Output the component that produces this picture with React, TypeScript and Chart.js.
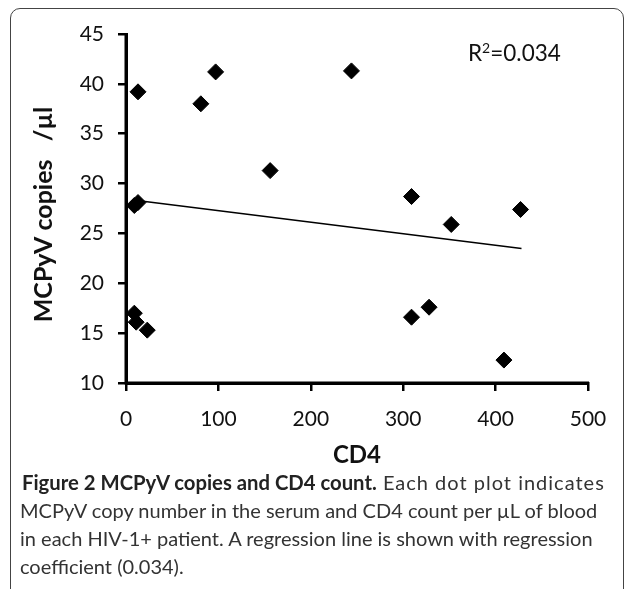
import { useEffect, useRef } from "react";
import { Chart, registerables, type ChartConfiguration, type Plugin } from "chart.js";

Chart.register(...registerables);

// CD4 count per µL (x) and MCPyV copies /µl (y)
const cd4 = [9, 13, 13, 81, 97, 156, 244, 309, 352, 427, 309, 328, 409, 9, 11, 23];
const copies = [27.8, 28.1, 39.2, 38.0, 41.2, 31.3, 41.3, 28.7, 25.9, 27.4, 16.6, 17.6, 12.3, 17.0, 16.1, 15.3];

// regression line end points
const trendX = [12, 428];
const trendY = [28.3, 23.5];

const xTicks = [0, 100, 200, 300, 400, 500];
const yTicks = [10, 15, 20, 25, 30, 35, 40, 45];

const captionBold = "Figure 2 MCPyV copies and CD4 count.";
const captionLines = [
  " Each dot plot indicates",
  "MCPyV copy number in the serum and CD4 count per µL of blood",
  "in each HIV-1+ patient. A regression line is shown with regression",
  "coefficient (0.034).",
];

const FONT = "Lato, 'Open Sans', sans-serif";
const INK = "#111";

// thick black axis lines like the Excel original
const axisLines: Plugin = {
  id: "axisLines",
  afterDatasetsDraw(chart) {
    const { ctx, chartArea } = chart;
    ctx.save();
    ctx.strokeStyle = "#000";
    ctx.lineWidth = 3;
    ctx.beginPath();
    ctx.moveTo(chartArea.left, chartArea.top - 1);
    ctx.lineTo(chartArea.left, chartArea.bottom);
    ctx.lineTo(chartArea.right + 1, chartArea.bottom);
    ctx.stroke();
    ctx.restore();
  },
};

export default function App() {
  const canvasRef = useRef<HTMLCanvasElement>(null);
  const chartRef = useRef<Chart | null>(null);

  useEffect(() => {
    if (!canvasRef.current) return;
    chartRef.current?.destroy();

    const cfg: ChartConfiguration = {
      type: "scatter",
      data: {
        datasets: [
          {
            type: "line",
            label: "trend",
            data: trendX.map((x, i) => ({ x, y: trendY[i] })),
            borderColor: "#000",
            borderWidth: 1.5,
            pointRadius: 0,
            fill: false,
            order: 2,
          },
          {
            type: "scatter",
            label: "patients",
            data: cd4.map((x, i) => ({ x, y: copies[i] })),
            pointStyle: "rectRot",
            pointRadius: 8,
            backgroundColor: "#000",
            borderColor: "#000",
            borderWidth: 1,
            clip: false,
            order: 1,
          },
        ],
      },
      options: {
        responsive: true,
        maintainAspectRatio: false,
        animation: false,
        layout: { padding: { top: 34, right: 39, bottom: 0, left: 0 } },
        plugins: { legend: { display: false }, tooltip: { enabled: false } },
        scales: {
          x: {
            type: "linear",
            min: xTicks[0],
            max: xTicks[xTicks.length - 1],
            ticks: {
              stepSize: xTicks[1] - xTicks[0],
              color: INK,
              font: { family: FONT, size: 21 },
              padding: 16,
            },
            grid: {
              drawOnChartArea: false,
              tickLength: 8,
              color: "#000",
              lineWidth: 2.5,
              tickWidth: 2.5,
            },
            border: { color: "#000", width: 3 },
            title: {
              display: true,
              text: "CD4",
              color: INK,
              font: { family: FONT, size: 24, weight: "bold" },
              padding: { top: 0, bottom: 3 },
            },
            afterFit: (s) => {
              s.height = 90;
            },
          },
          y: {
            type: "linear",
            min: yTicks[0],
            max: yTicks[yTicks.length - 1],
            ticks: {
              stepSize: yTicks[1] - yTicks[0],
              color: INK,
              font: { family: FONT, size: 21 },
              padding: 14,
            },
            grid: {
              drawOnChartArea: false,
              tickLength: 8,
              color: "#000",
              lineWidth: 2.5,
              tickWidth: 2.5,
            },
            border: { color: "#000", width: 3 },
            title: {
              display: true,
              text: "MCPyV copies   /µl  ",
              color: INK,
              font: { family: FONT, size: 25, weight: "bold" },
              padding: { top: 29, bottom: 0 },
            },
            afterFit: (s) => {
              s.width = 126;
            },
          },
        },
      },
      plugins: [axisLines],
    };

    chartRef.current = new Chart(canvasRef.current, cfg);
    return () => {
      chartRef.current?.destroy();
      chartRef.current = null;
    };
  }, []);

  return (
    <div
      style={{
        position: "fixed",
        left: 0,
        top: 0,
        width: 627,
        height: 589,
        overflow: "hidden",
        background: "#fff",
      }}
    >
      <div
        style={{
          position: "absolute",
          left: 10,
          top: 8,
          width: 614,
          height: 610,
          boxSizing: "border-box",
          border: "1.5px solid #444",
          borderRadius: 10,
        }}
      />
      <div style={{ position: "absolute", left: 0, top: 0, width: 627, height: 473 }}>
        <canvas ref={canvasRef} />
      </div>
      <div
        style={{
          position: "absolute",
          left: 468,
          top: 34,
          fontFamily: FONT,
          fontSize: 22.5,
          color: INK,
          lineHeight: "28px",
          whiteSpace: "nowrap",
        }}
      >
        R<sup style={{ fontSize: 14, verticalAlign: "8px" }}>2</sup>=0.034
      </div>
      <div
        style={{
          position: "absolute",
          left: 20,
          top: 468,
          fontFamily: FONT,
          fontSize: 20,
          lineHeight: "28px",
          color: "#333",
          whiteSpace: "nowrap",
        }}
      >
        {captionLines.map((line, i) => (
          <div key={i} style={{ marginLeft: i === 0 ? 2 : 0 }}>
            {i === 0 && <b style={{ color: "#222", fontSize: 20.3 }}>{captionBold}</b>}
            {i === 0 ? <span style={{ letterSpacing: 1 }}>{line}</span> : line}
          </div>
        ))}
      </div>
    </div>
  );
}
